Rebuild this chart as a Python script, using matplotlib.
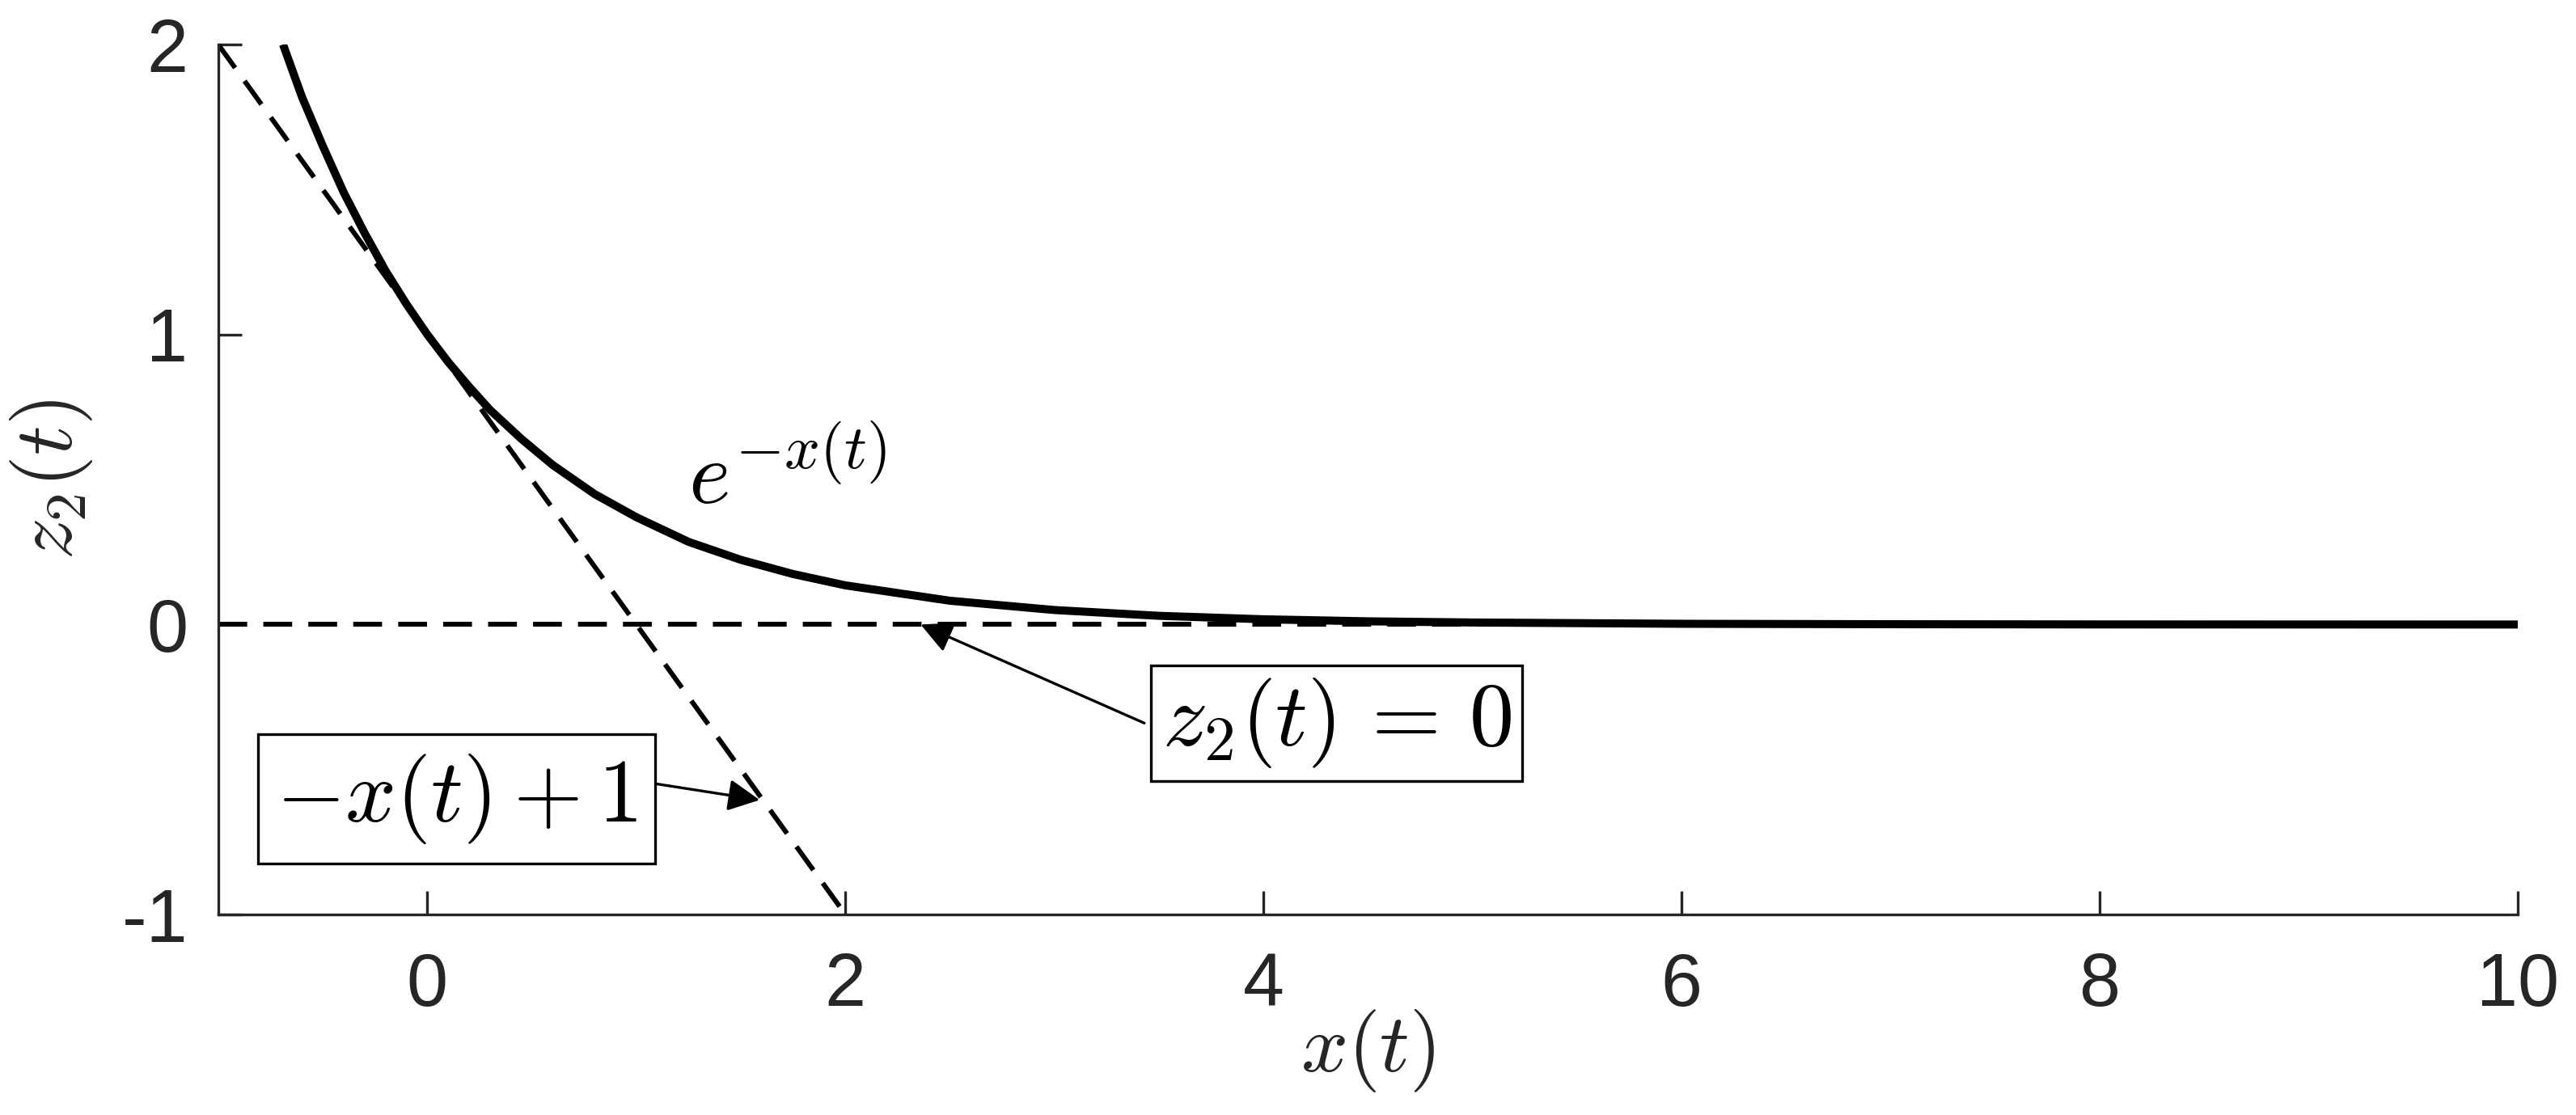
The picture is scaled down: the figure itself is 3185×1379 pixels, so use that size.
import matplotlib
matplotlib.use("Agg")
import matplotlib.pyplot as plt
import numpy as np

# 數值
# e^{-x(t)} 曲線上的點
curve_x = [-0.69, -0.6, -0.5, -0.4, -0.3, -0.2, -0.1, 0.0, 0.1, 0.2, 0.3, 0.45, 0.6,
           0.8, 1.0, 1.25, 1.5, 1.75, 2.0, 2.5, 3.0, 3.5, 4.0, 4.5, 5.0, 6.0, 7.0, 8.0, 9.0, 10.0]
curve_y = [2.0, 1.82, 1.65, 1.49, 1.35, 1.22, 1.105, 1.0, 0.905, 0.82, 0.74, 0.64, 0.55,
           0.45, 0.37, 0.285, 0.223, 0.174, 0.135, 0.082, 0.05, 0.03, 0.018, 0.011, 0.007,
           0.0025, 0.001, 0.0003, 0.0001, 0.0]
# 切線 -x(t)+1
tangent_x = [-1, 2]
tangent_y = [2, -1]
# z2(t)=0
zero_x = [-1, 10]
zero_y = [0, 0]

xticks = [0, 2, 4, 6, 8, 10]
yticks = [-1, 0, 1, 2]

plt.rcParams['font.family'] = ['Liberation Sans', 'DejaVu Sans']
plt.rcParams['mathtext.fontset'] = 'cm'
plt.rcParams['axes.unicode_minus'] = False

axColor = '#262626'

fig = plt.figure(figsize=(3186 / 300, 1379 / 300), dpi=300)
ax = fig.add_axes([0.0847, 0.1798, 0.8924, 0.7803])

# 虛線: 線寬 1.45pt, 線段 ~8.6pt, 間隔 ~4.8pt (會乘上線寬)
dash = (0, (5.9, 3.3))
ax.plot(zero_x, zero_y, color='k', lw=1.45, linestyle=dash)
ax.plot(tangent_x, tangent_y, color='k', lw=1.45, linestyle=dash)
ax.plot(curve_x, curve_y, color='k', lw=2.4, solid_capstyle='butt')

ax.set_xlim(-1, 10)
ax.set_ylim(-1, 2)
ax.set_xticks(xticks)
ax.set_yticks(yticks)

# 座標軸樣式 (MATLAB 風格)
ax.spines['top'].set_visible(False)
ax.spines['right'].set_visible(False)
ax.spines['left'].set_color(axColor)
ax.spines['bottom'].set_color(axColor)
ax.spines['left'].set_linewidth(0.8)
ax.spines['bottom'].set_linewidth(0.8)
ax.tick_params(direction='in', length=7, width=0.8, color=axColor,
               labelcolor=axColor, labelsize=22)
ax.tick_params(axis='x', pad=11)
ax.tick_params(axis='y', pad=9)

ax.set_xlabel(r'$x(t)$', fontsize=24.5, color=axColor, labelpad=-4)
ax.set_ylabel(r'$z_2(t)$', fontsize=24.5, color=axColor, labelpad=8)

# 標註
ax.text(1.25, 0.5, r'$e^{-x(t)}$', fontsize=26.5, ha='left', va='center')

ax.text(4.35, -0.34, r'$z_2(t)\,=\,0$', fontsize=26.5, ha='center', va='center',
        bbox=dict(boxstyle='square,pad=0.12', fc='white', ec='k', lw=0.8))
ax.text(0.14, -0.60, r'$-x(t)+1$', fontsize=26.5, ha='center', va='center',
        bbox=dict(boxstyle='square,pad=0.2', fc='white', ec='k', lw=0.8))

arrowStyle = dict(arrowstyle='-|>', color='k', lw=0.8, mutation_scale=20,
                  shrinkA=0, shrinkB=0)
ax.annotate('', xy=(2.36, 0.0), xytext=(3.43, -0.34), arrowprops=arrowStyle)
ax.annotate('', xy=(1.59, -0.605), xytext=(1.10, -0.55), arrowprops=arrowStyle)

fig.savefig('out.png', dpi=300)
